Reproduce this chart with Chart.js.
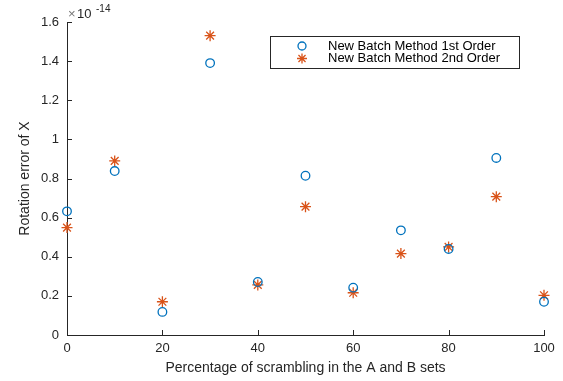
<!DOCTYPE html>
<html>
<head>
<meta charset="utf-8">
<script src="https://cdn.jsdelivr.net/npm/chart.js@4/dist/chart.umd.min.js"></script>
<style>
  html, body { margin: 0; padding: 0; background: #fff; }
  #wrap { width: 563px; height: 381px; }
</style>
</head>
<body>
<div id="wrap"><canvas id="chart"></canvas></div>
<script>
// values are in units of 1e-14
const scramblePct = [0, 10, 20, 30, 40, 50, 60, 70, 80, 90, 100];
const firstOrder = [0.632, 0.838, 0.118, 1.39, 0.271, 0.814, 0.242, 0.535, 0.44, 0.905, 0.17];
const secondOrder = [0.549, 0.89, 0.17, 1.53, 0.256, 0.656, 0.216, 0.416, 0.45, 0.707, 0.203];
const seriesNames = ["New Batch Method 1st Order", "New Batch Method 2nd Order"];
const yTicks = [0, 0.2, 0.4, 0.6, 0.8, 1, 1.2, 1.4, 1.6];
const xTicks = [0, 20, 40, 60, 80, 100];

const axisColor = "#262626";
const blue = "#0072BD";
const orange = "#D95319";
const font = "'Liberation Sans', Arial, sans-serif";

function toPoints(ys) {
    return scramblePct.map((x, i) => ({ x: x, y: ys[i] }));
}

// inward tick marks, MATLAB style
const innerTicks = {
    id: "innerTicks",
    afterDraw(chart) {
        const ctx = chart.ctx;
        const xs = chart.scales.x;
        const ys = chart.scales.y;
        const area = chart.chartArea;
        ctx.save();
        ctx.strokeStyle = axisColor;
        ctx.lineWidth = 1;
        ctx.beginPath();
        xTicks.forEach(v => {
            const px = Math.round(xs.getPixelForValue(v)) + 0.5;
            ctx.moveTo(px, area.bottom);
            ctx.lineTo(px, area.bottom - 5);
        });
        yTicks.forEach(v => {
            const py = Math.round(ys.getPixelForValue(v)) + 0.5;
            ctx.moveTo(area.left, py);
            ctx.lineTo(area.left + 5, py);
        });
        ctx.stroke();

        // exponent label
        ctx.fillStyle = axisColor;
        ctx.textBaseline = "alphabetic";
        ctx.textAlign = "left";
        ctx.font = "13px " + font;
        ctx.fillStyle = "#777";
        ctx.fillText("\u00d7", area.left + 1, area.top - 4);
        ctx.fillStyle = axisColor;
        ctx.fillText("10", area.left + 10, area.top - 4);
        ctx.font = "10px " + font;
        ctx.fillText("-14", area.left + 29, area.top - 10);

        // legend box
        const lx = 270, ly = 36, lw = 249, lh = 32;
        ctx.fillStyle = "#fff";
        ctx.fillRect(lx, ly, lw, lh);
        ctx.strokeStyle = "#262626";
        ctx.strokeRect(lx + 0.5, ly + 0.5, lw, lh);
        const styles = [
            { pointStyle: "circle", radius: 4, color: blue },
            { pointStyle: "star", radius: 5, color: orange }
        ];
        ctx.font = "13px " + font;
        ctx.textBaseline = "middle";
        seriesNames.forEach((name, i) => {
            const cy = ly + 10 + i * 12.5;
            ctx.strokeStyle = styles[i].color;
            ctx.fillStyle = "rgba(0,0,0,0)";
            ctx.lineWidth = 1.3;
            Chart.helpers.drawPoint(ctx, { pointStyle: styles[i].pointStyle, radius: styles[i].radius, rotation: 0, borderWidth: 1.3 }, 302, cy);
            ctx.fillStyle = "#000";
            ctx.fillText(name, 328, cy);
        });
        ctx.restore();
    }
};

new Chart(document.getElementById("chart"), {
    type: "scatter",
    data: {
        datasets: [
            {
                label: seriesNames[0],
                data: toPoints(firstOrder),
                pointStyle: "circle",
                pointRadius: 4.3,
                pointBorderWidth: 1.3,
                borderColor: blue,
                backgroundColor: "rgba(0,0,0,0)",
                clip: false
            },
            {
                label: seriesNames[1],
                data: toPoints(secondOrder),
                pointStyle: "star",
                pointRadius: 5.5,
                pointBorderWidth: 1.3,
                borderColor: orange,
                backgroundColor: "rgba(0,0,0,0)",
                clip: false
            }
        ]
    },
    options: {
        responsive: true,
        maintainAspectRatio: false,
        animation: false,
        layout: { padding: { top: 22, right: 19, left: 0, bottom: 0 } },
        plugins: {
            legend: { display: false },
            tooltip: { enabled: false }
        },
        scales: {
            x: {
                type: "linear",
                min: 0,
                max: 100,
                afterBuildTicks: s => { s.ticks = xTicks.map(v => ({ value: v })); },
                afterFit: s => { s.height = 46; },
                grid: { display: false, drawTicks: false },
                border: { display: true, color: axisColor, width: 1 },
                ticks: {
                    color: axisColor,
                    padding: 6,
                    font: { family: font, size: 13 },
                    maxRotation: 0,
                    callback: v => String(v)
                },
                title: {
                    display: true,
                    text: "Percentage of scrambling in the A and B sets",
                    color: axisColor,
                    font: { family: font, size: 14 },
                    padding: { top: 0, bottom: 4 }
                }
            },
            y: {
                type: "linear",
                min: 0,
                max: 1.6,
                afterBuildTicks: s => { s.ticks = yTicks.map(v => ({ value: v })); },
                afterFit: s => { s.width = 67; },
                grid: { display: false, drawTicks: false },
                border: { display: true, color: axisColor, width: 1 },
                ticks: {
                    color: axisColor,
                    padding: 8,
                    font: { family: font, size: 13 },
                    callback: v => String(Number(v.toFixed(1)))
                },
                title: {
                    display: true,
                    text: "Rotation error of X",
                    color: axisColor,
                    font: { family: font, size: 14 },
                    padding: { top: 17, bottom: 0 }
                }
            }
        }
    },
    plugins: [innerTicks]
});
</script>
</body>
</html>
